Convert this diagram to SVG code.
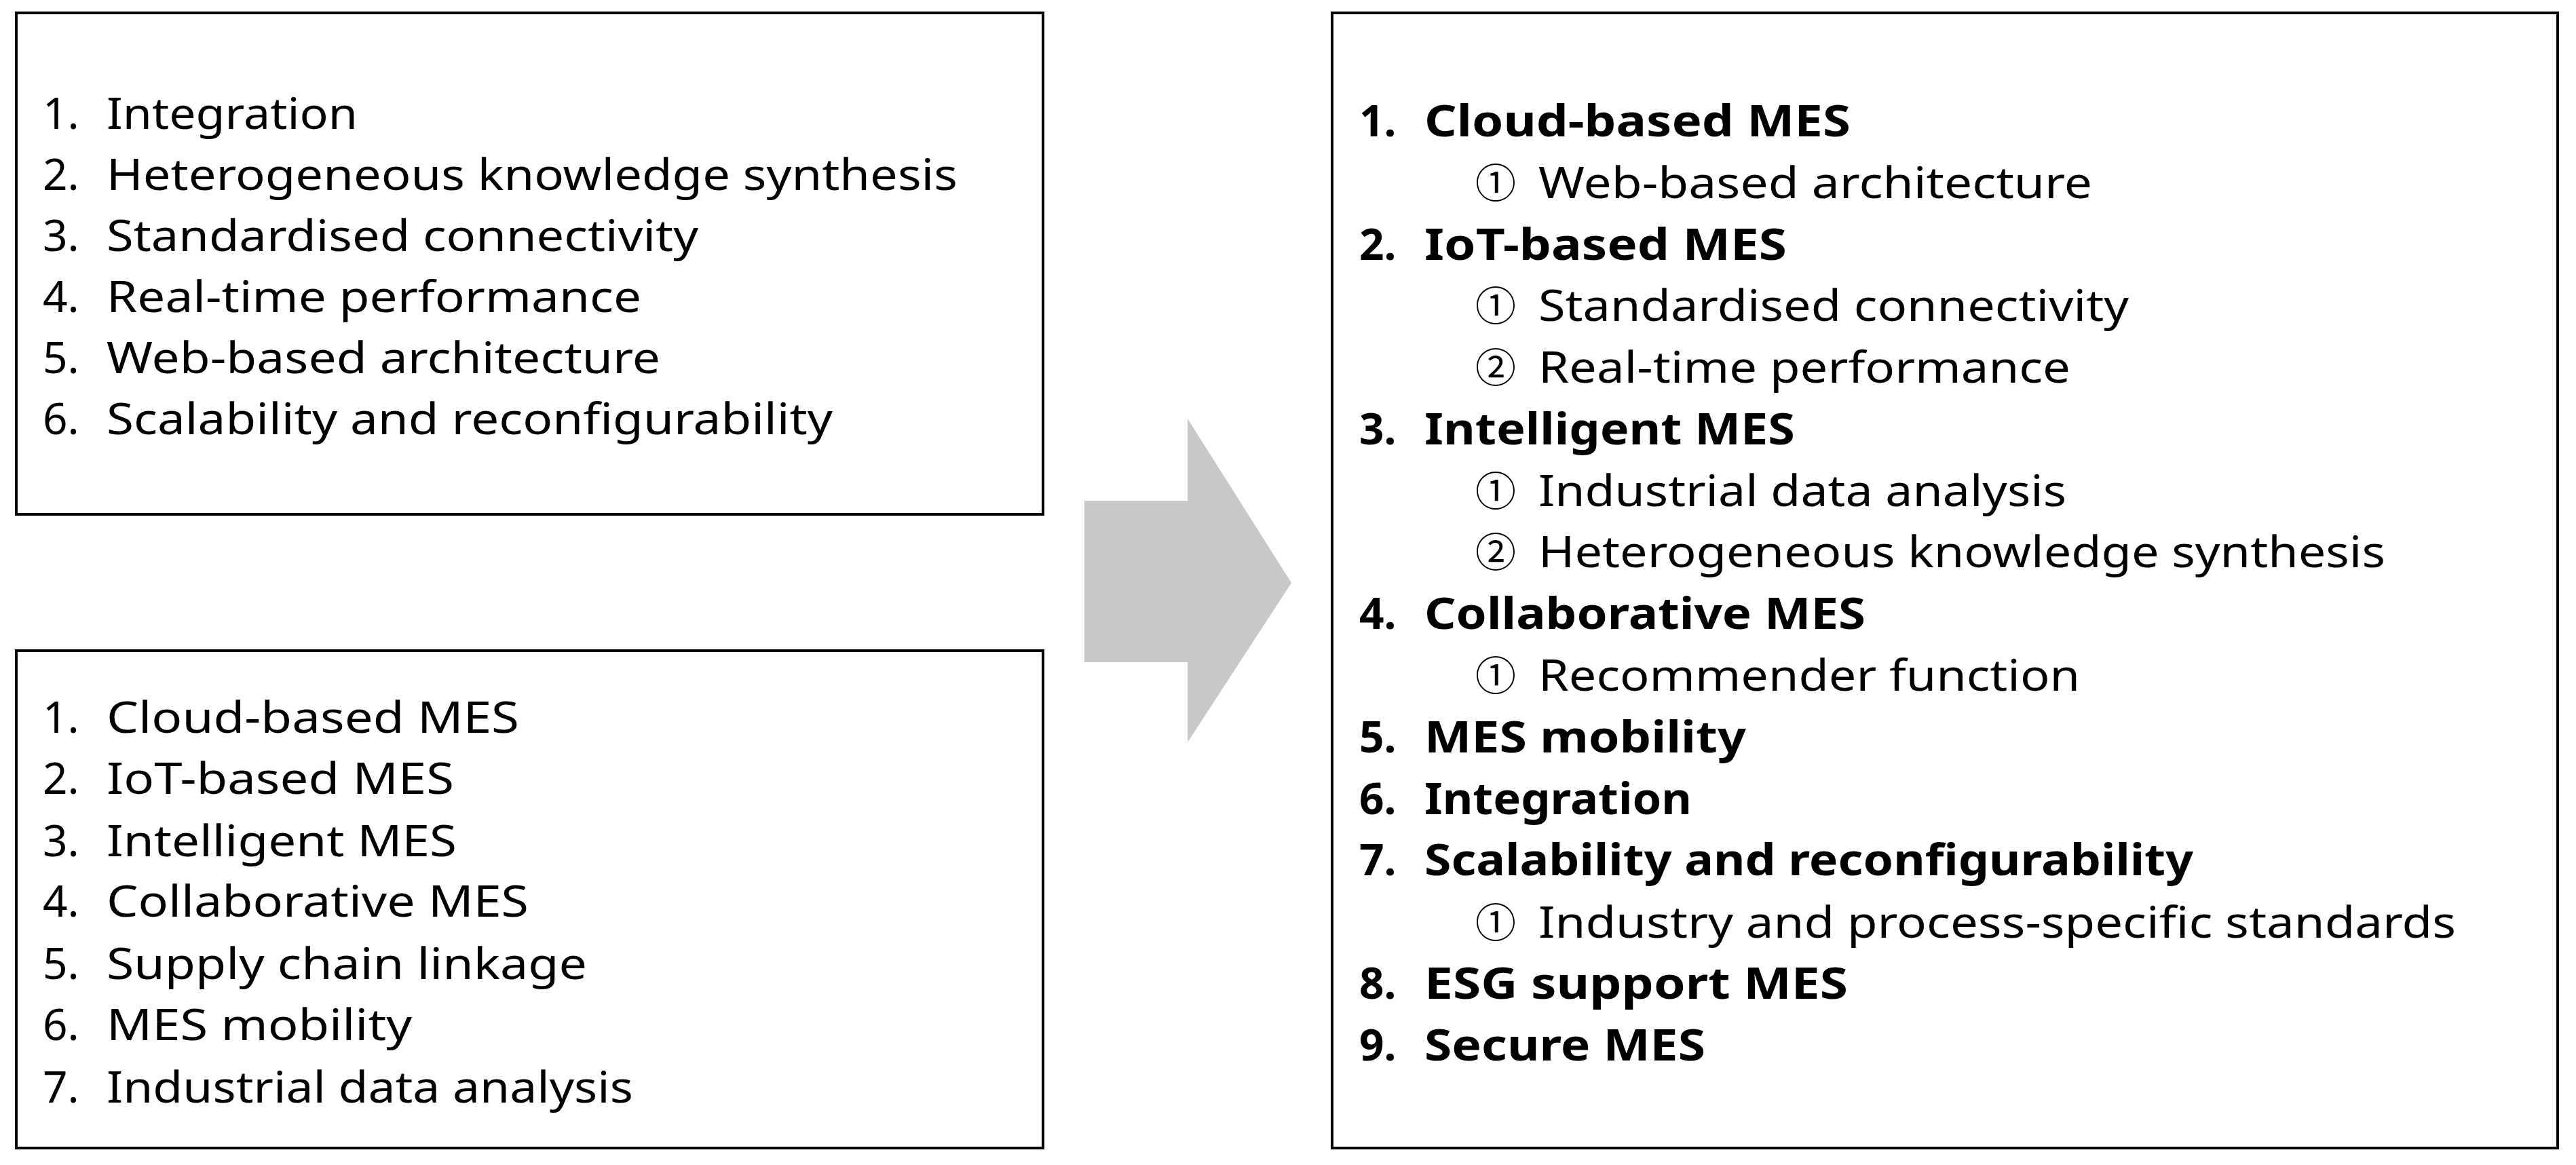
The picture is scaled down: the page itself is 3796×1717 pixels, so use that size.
<svg xmlns="http://www.w3.org/2000/svg" width="3796" height="1717" viewBox="0 0 3796 1717">
<style>
.box{fill:#fff;stroke:#000;stroke-width:4}
text{font-family:"Noto Sans","Liberation Sans",sans-serif;font-size:64px;fill:#000}
.b{font-weight:bold}
.c{font-family:"Noto Sans CJK KR","Noto Sans CJK SC",sans-serif;font-size:60px}
</style>
<rect width="3796" height="1717" fill="#fff"/>
<g id="box-top">
<rect class="box" x="24" y="19" width="1513" height="739"/>
<text x="63" y="190">1.</text><text x="157" y="190" textLength="370" lengthAdjust="spacingAndGlyphs">Integration</text>
<text x="63" y="280">2.</text><text x="157" y="280" textLength="1254" lengthAdjust="spacingAndGlyphs">Heterogeneous knowledge synthesis</text>
<text x="63" y="370">3.</text><text x="157" y="370" textLength="872" lengthAdjust="spacingAndGlyphs">Standardised connectivity</text>
<text x="63" y="460">4.</text><text x="157" y="460" textLength="788" lengthAdjust="spacingAndGlyphs">Real-time performance</text>
<text x="63" y="550">5.</text><text x="157" y="550" textLength="816" lengthAdjust="spacingAndGlyphs">Web-based architecture</text>
<text x="63" y="640">6.</text><text x="157" y="640" textLength="1070" lengthAdjust="spacingAndGlyphs">Scalability and reconfigurability</text>
</g>
<g id="box-bottom">
<rect class="box" x="24" y="959" width="1513" height="733"/>
<text x="63" y="1080">1.</text><text x="157" y="1080" textLength="608" lengthAdjust="spacingAndGlyphs">Cloud-based MES</text>
<text x="63" y="1170">2.</text><text x="157" y="1170" textLength="512" lengthAdjust="spacingAndGlyphs">IoT-based MES</text>
<text x="63" y="1262">3.</text><text x="157" y="1262" textLength="516" lengthAdjust="spacingAndGlyphs">Intelligent MES</text>
<text x="63" y="1351">4.</text><text x="157" y="1351" textLength="622" lengthAdjust="spacingAndGlyphs">Collaborative MES</text>
<text x="63" y="1443">5.</text><text x="157" y="1443" textLength="708" lengthAdjust="spacingAndGlyphs">Supply chain linkage</text>
<text x="63" y="1533">6.</text><text x="157" y="1533" textLength="450" lengthAdjust="spacingAndGlyphs">MES mobility</text>
<text x="63" y="1625">7.</text><text x="157" y="1625" textLength="776" lengthAdjust="spacingAndGlyphs">Industrial data analysis</text>
</g>
<g id="connectors">
<polygon points="1598,738 1750,738 1750,617 1903,859 1750,1094 1750,976 1598,976" fill="#c8c8c8"/>
</g>
<g id="box-right">
<rect class="box" x="1963" y="19" width="1806" height="1673"/>
<g class="b">
<text x="2003" y="201">1.</text><text x="2099" y="201" textLength="628" lengthAdjust="spacingAndGlyphs">Cloud-based MES</text>
<text x="2003" y="383">2.</text><text x="2099" y="383" textLength="534" lengthAdjust="spacingAndGlyphs">IoT-based MES</text>
<text x="2003" y="655">3.</text><text x="2099" y="655" textLength="546" lengthAdjust="spacingAndGlyphs">Intelligent MES</text>
<text x="2003" y="927">4.</text><text x="2099" y="927" textLength="650" lengthAdjust="spacingAndGlyphs">Collaborative MES</text>
<text x="2003" y="1109">5.</text><text x="2099" y="1109" textLength="474" lengthAdjust="spacingAndGlyphs">MES mobility</text>
<text x="2003" y="1200">6.</text><text x="2099" y="1200" textLength="394" lengthAdjust="spacingAndGlyphs">Integration</text>
<text x="2003" y="1290">7.</text><text x="2099" y="1290" textLength="1133" lengthAdjust="spacingAndGlyphs">Scalability and reconfigurability</text>
<text x="2003" y="1472">8.</text><text x="2099" y="1472" textLength="624" lengthAdjust="spacingAndGlyphs">ESG support MES</text>
<text x="2003" y="1563">9.</text><text x="2099" y="1563" textLength="414" lengthAdjust="spacingAndGlyphs">Secure MES</text>
</g>
<text class="c" x="2174" y="292">①</text><text x="2267" y="292" textLength="816" lengthAdjust="spacingAndGlyphs">Web-based architecture</text>
<text class="c" x="2174" y="473">①</text><text x="2267" y="473" textLength="870" lengthAdjust="spacingAndGlyphs">Standardised connectivity</text>
<text class="c" x="2174" y="564">②</text><text x="2267" y="564" textLength="784" lengthAdjust="spacingAndGlyphs">Real-time performance</text>
<text class="c" x="2174" y="746">①</text><text x="2267" y="746" textLength="778" lengthAdjust="spacingAndGlyphs">Industrial data analysis</text>
<text class="c" x="2174" y="836">②</text><text x="2267" y="836" textLength="1248" lengthAdjust="spacingAndGlyphs">Heterogeneous knowledge synthesis</text>
<text class="c" x="2174" y="1018">①</text><text x="2267" y="1018" textLength="798" lengthAdjust="spacingAndGlyphs">Recommender function</text>
<text class="c" x="2174" y="1382">①</text><text x="2267" y="1382" textLength="1352" lengthAdjust="spacingAndGlyphs">Industry and process-specific standards</text>
</g>
</svg>
